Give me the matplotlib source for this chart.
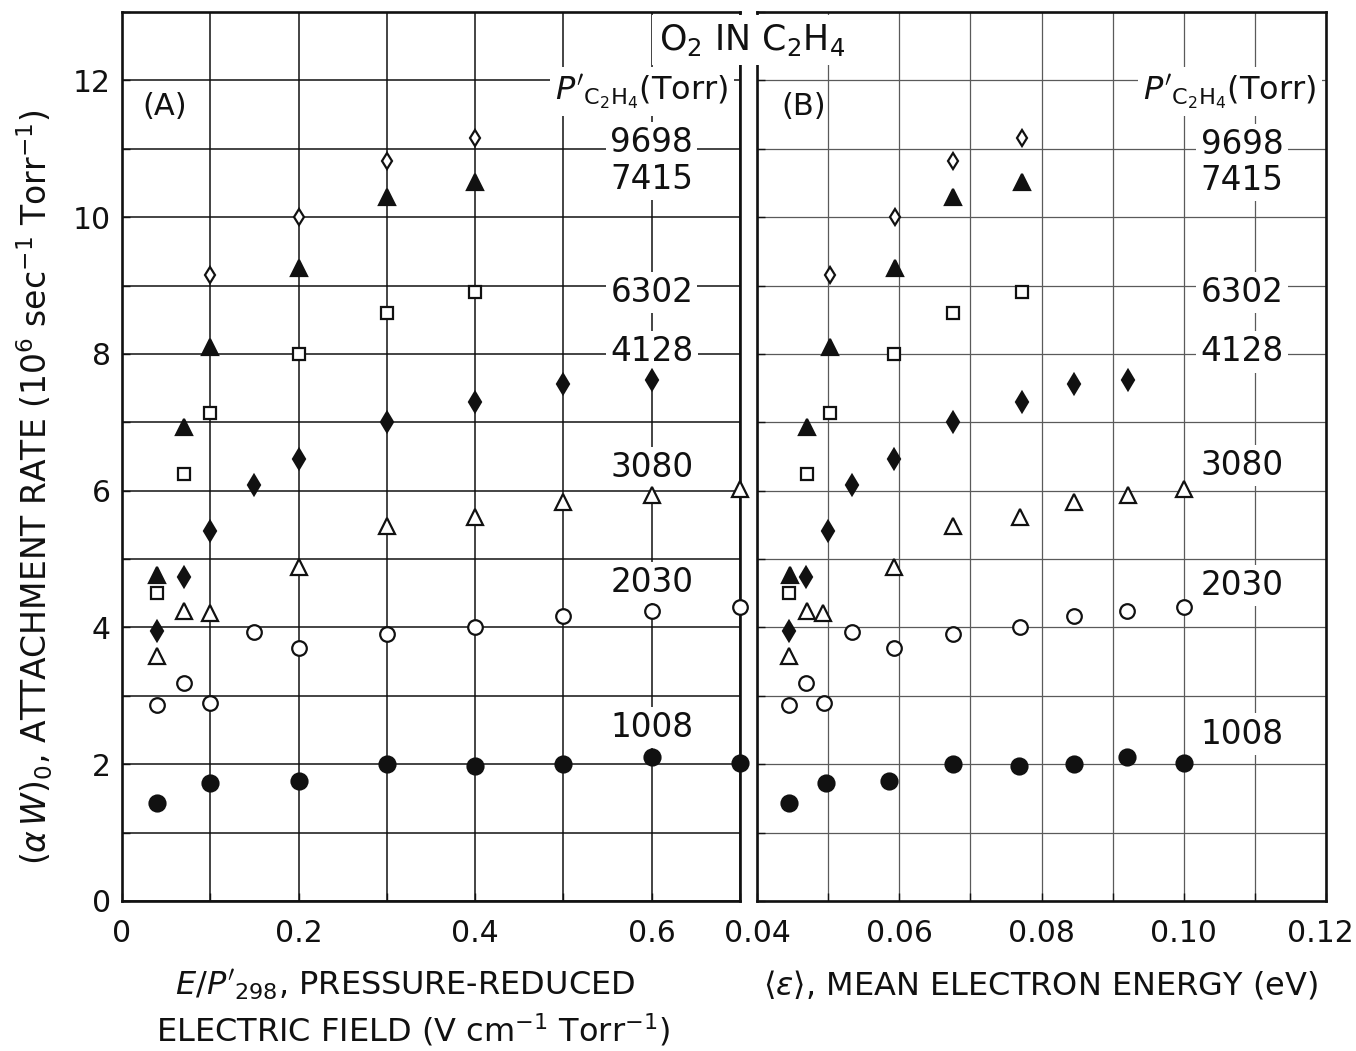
import matplotlib
matplotlib.use("Agg")
import matplotlib.pyplot as plt
from matplotlib.ticker import MultipleLocator, FixedLocator

plt.rcParams["font.family"] = ["DejaVu Sans"]
plt.rcParams["mathtext.fontset"] = "dejavusans"

# O2 attachment rate in C2H4 at several C2H4 pressures (Torr)
pressures = ["9698", "7415", "6302", "4128", "3080", "2030", "1008"]

field_9698 = [0.1, 0.2, 0.3, 0.4]
energy_9698 = [0.0503, 0.0594, 0.0675, 0.0772]
rate_9698 = [9.15, 10.0, 10.82, 11.16]

field_7415 = [0.04, 0.07, 0.1, 0.2, 0.3, 0.4]
energy_7415 = [0.0446, 0.0470, 0.0503, 0.0594, 0.0676, 0.0772]
rate_7415 = [4.76, 6.93, 8.10, 9.26, 10.30, 10.52]

field_6302 = [0.04, 0.07, 0.1, 0.2, 0.3, 0.4]
energy_6302 = [0.0445, 0.0470, 0.0503, 0.0592, 0.0675, 0.0772]
rate_6302 = [4.50, 6.25, 7.14, 8.00, 8.60, 8.91]

field_4128 = [0.04, 0.07, 0.1, 0.15, 0.2, 0.3, 0.4, 0.5, 0.6]
energy_4128 = [0.0445, 0.0469, 0.0500, 0.0534, 0.0592, 0.0675, 0.0772, 0.0845, 0.0921]
rate_4128 = [3.95, 4.74, 5.41, 6.09, 6.46, 7.00, 7.30, 7.56, 7.62]

field_3080 = [0.04, 0.07, 0.1, 0.2, 0.3, 0.4, 0.5, 0.6, 0.7]
energy_3080 = [0.0445, 0.0470, 0.0493, 0.0592, 0.0675, 0.0770, 0.0845, 0.0921, 0.1000]
rate_3080 = [3.58, 4.24, 4.21, 4.88, 5.49, 5.61, 5.83, 5.94, 6.03]

field_2030 = [0.04, 0.07, 0.1, 0.15, 0.2, 0.3, 0.4, 0.5, 0.6, 0.7]
energy_2030 = [0.0445, 0.0469, 0.0494, 0.0534, 0.0592, 0.0675, 0.0770, 0.0845, 0.0920, 0.1001]
rate_2030 = [2.86, 3.19, 2.90, 3.94, 3.70, 3.90, 4.01, 4.17, 4.24, 4.30]

field_1008 = [0.04, 0.1, 0.2, 0.3, 0.4, 0.5, 0.6, 0.7]
energy_1008 = [0.0445, 0.0497, 0.0586, 0.0675, 0.0769, 0.0845, 0.0920, 0.1000]
rate_1008 = [1.43, 1.72, 1.76, 2.01, 1.98, 2.01, 2.10, 2.02]

# tick labels of both x axes
field_ticks = [0, 0.2, 0.4, 0.6]
field_ticklabels = ["0", "0.2", "0.4", "0.6"]
energy_ticks = [0.04, 0.06, 0.08, 0.10, 0.12]
energy_ticklabels = ["0.04", "0.06", "0.08", "0.10", "0.12"]

# label anchor heights for the pressure annotations
label_y_a = [11.09, 10.55, 8.90, 8.03, 6.34, 4.66, 2.54]
label_y_b = [11.06, 10.54, 8.90, 8.03, 6.37, 4.61, 2.44]

series = [
    (field_9698, energy_9698, rate_9698, "d", False, 8.0),
    (field_7415, energy_7415, rate_7415, "^", True, 11),
    (field_6302, energy_6302, rate_6302, "s", False, 8),
    (field_4128, energy_4128, rate_4128, "d", True, 10.0),
    (field_3080, energy_3080, rate_3080, "^", False, 11),
    (field_2030, energy_2030, rate_2030, "o", False, 10.5),
    (field_1008, energy_1008, rate_1008, "o", True, 11.5),
]

INK = "#111111"
TICK_FS = 21.5
W, H = 1356, 1051
fig = plt.figure(figsize=(W / 100, H / 100), dpi=100)

bottom = (H - 901) / H
height = 889 / H
ax_a = fig.add_axes([122 / W, bottom, 618 / W, height])
ax_b = fig.add_axes([757 / W, bottom, 569 / W, height])

for ax, grid_col, grid_lw in ((ax_a, INK, 1.1), (ax_b, "#5a5a5a", 0.9)):
    ax.set_ylim(0, 13)
    ax.yaxis.set_major_locator(MultipleLocator(2))
    ax.yaxis.set_minor_locator(MultipleLocator(1))
    ax.grid(True, which="both", color=grid_col, linewidth=grid_lw, zorder=1)
    ax.set_axisbelow(True)
    for sp in ax.spines.values():
        sp.set_linewidth(1.9)
        sp.set_color(INK)
    ax.tick_params(which="both", direction="in", length=6, width=1,
                   colors=INK, labelsize=TICK_FS)
    ax.tick_params(axis="x", pad=13)
    ax.tick_params(axis="y", pad=8)

ax_a.set_xlim(0, 0.7)
ax_a.xaxis.set_major_locator(FixedLocator(field_ticks))
ax_a.xaxis.set_minor_locator(FixedLocator([0.1, 0.3, 0.5, 0.7]))
ax_a.set_xticklabels(field_ticklabels)

ax_b.set_xlim(0.04, 0.12)
ax_b.xaxis.set_major_locator(FixedLocator(energy_ticks))
ax_b.xaxis.set_minor_locator(FixedLocator([0.05, 0.07, 0.09, 0.11]))
# the last label sits at the figure edge; it is drawn separately, nudged inward
ax_b.set_xticklabels(energy_ticklabels[:-1] + [""])
ax_b.annotate(energy_ticklabels[-1], xy=(energy_ticks[-1], 0),
              xycoords=("data", "axes fraction"), xytext=(-4, -13),
              textcoords="offset points", ha="center", va="top",
              fontsize=TICK_FS, color=INK, annotation_clip=False)
ax_b.tick_params(axis="y", labelleft=False)

for field, energy, rate, mk, filled, ms in series:
    face = INK if filled else "white"
    ax_a.plot(field, rate, linestyle="none", marker=mk, markersize=ms,
              markerfacecolor=face, markeredgecolor=INK, markeredgewidth=1.6,
              zorder=4, clip_on=False)
    ax_b.plot(energy, rate, linestyle="none", marker=mk, markersize=ms,
              markerfacecolor=face, markeredgecolor=INK, markeredgewidth=1.6,
              zorder=4, clip_on=False)

box = dict(facecolor="white", edgecolor="none", pad=3)
for p, ya, yb in zip(pressures, label_y_a, label_y_b):
    ax_a.text(0.6, ya, p, fontsize=23.5, color=INK, ha="center", va="center",
              bbox=box, zorder=3)
    ax_b.text(0.1082, yb, p, fontsize=23.5, color=INK, ha="center", va="center",
              bbox=box, zorder=3)

header = r"$P'_{\mathrm{C_2H_4}}$(Torr)"
ax_a.text(0.589, 11.72, header, fontsize=23, color=INK, ha="center",
          va="baseline", bbox=dict(facecolor="white", edgecolor="none", pad=4),
          zorder=3)
ax_b.text(0.1065, 11.72, header, fontsize=23, color=INK, ha="center",
          va="baseline", bbox=dict(facecolor="white", edgecolor="none", pad=4),
          zorder=3)

ax_a.text(0.0488, 11.62, "(A)", fontsize=22, color=INK, ha="center", va="center")
ax_b.text(0.0465, 11.62, "(B)", fontsize=22, color=INK, ha="center", va="center")

fig.text(752 / W, 1 - 40 / H, r"O$_2$ IN C$_2$H$_4$", fontsize=25, color=INK,
         ha="center", va="center",
         bbox=dict(facecolor="white", edgecolor="none", pad=5))

fig.text(35 / W, 1 - 487 / H,
         r"$(\alpha\,W)_0$, ATTACHMENT RATE (10$^6$ sec$^{-1}$ Torr$^{-1}$)",
         fontsize=23.8, color=INK, rotation=90, ha="center", va="center")

fig.text(405 / W, 1 - 985 / H, r"$E/P'_{298}$, PRESSURE-REDUCED",
         fontsize=23, color=INK, ha="center", va="center")
fig.text(413 / W, 1 - 1030 / H, r"ELECTRIC FIELD (V cm$^{-1}$ Torr$^{-1}$)",
         fontsize=23, color=INK, ha="center", va="center")
fig.text(1040 / W, 1 - 985 / H, r"$\langle\epsilon\rangle$, MEAN ELECTRON ENERGY (eV)",
         fontsize=23, color=INK, ha="center", va="center")

fig.savefig("out.png", dpi=100, facecolor="white")
